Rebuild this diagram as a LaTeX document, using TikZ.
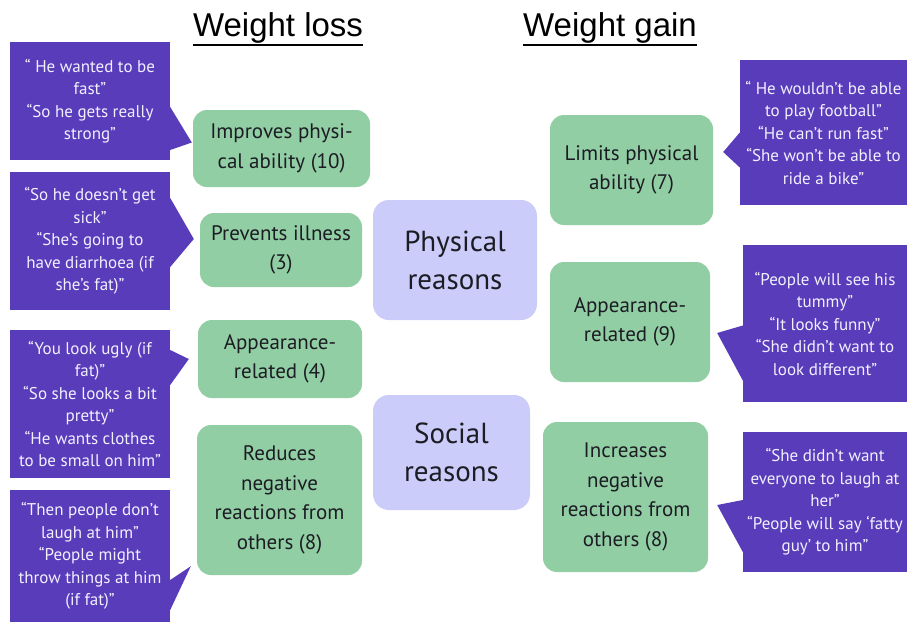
\documentclass[tikz,border=0pt]{standalone}
\usepackage{fontspec}
\setmainfont{PT Sans}
\newfontfamily\titlefont{Liberation Sans}

\definecolor{quotebg}{RGB}{88,60,186}
\definecolor{quotetxt}{RGB}{242,240,255}
\definecolor{reasonbg}{RGB}{146,206,163}
\definecolor{groupbg}{RGB}{204,204,250}
\definecolor{inktxt}{RGB}{28,28,36}

\tikzset{
    dims/.style 2 args={minimum width=#1pt, minimum height=#2pt},
    heading/.style={font=\titlefont\fontsize{33}{38}\selectfont, inner sep=0pt, anchor=base},
    group/.style={rounded corners=16pt, fill=groupbg, text=inktxt, align=center, inner sep=0pt, font=\fontsize{29}{38}\selectfont},
    reason/.style={rounded corners=14pt, fill=reasonbg, text=inktxt, align=center, inner sep=0pt, font=\fontsize{21}{29.5}\selectfont},
    quote/.style={fill=quotebg, text=quotetxt, align=center, inner sep=0pt, font=\fontsize{17}{22.5}\selectfont},
    tail/.style={fill=quotebg}
}

\begin{document}
\begin{tikzpicture}[x=1pt,y=-1pt]
    \useasboundingbox[fill=white] (0,0) rectangle (910,635);

    \node[heading] (loss) at (278,36) {Weight loss};
    \node[heading] (gain) at (610,36) {Weight gain};
    \draw[line width=2.5pt] ([yshift=-9pt]loss.base west) -- ([yshift=-9pt]loss.base east);
    \draw[line width=2.5pt] ([yshift=-9pt]gain.base west) -- ([yshift=-9pt]gain.base east);

    \node[group, dims={164}{120}] (phys) at (455,260) {Physical\\reasons};
    \node[group, dims={157}{115}] (soc) at (451.5,452.5) {Social\\reasons};

    \node[reason, dims={177}{77}] (imp) at (281.5,148.5) {Improves physi-\\cal ability (10)};
    \node[reason, dims={162}{74}] (prev) at (281,250) {Prevents illness\\(3)};
    \node[reason, dims={164}{78}] (app) at (280,359) {Appearance-\\related (4)};
    \node[reason, dims={165}{150}] (red) at (279.5,500) {Reduces\\negative\\reactions from\\others (8)};

    \node[reason, dims={163}{110}] (lim) at (631.5,170) {Limits physical\\ability (7)};
    \node[reason, dims={160}{120}] (appg) at (630,322) {Appearance-\\related (9)};
    \node[reason, dims={165}{150}] (inc) at (625.5,497) {Increases\\negative\\reactions from\\others (8)};

    \node[quote, dims={160}{118}] (qa) at (90,101) {“ He wanted to be\\fast”\\“So he gets really\\strong”};
    \node[quote, dims={160}{138}] (qb) at (90,241) {“So he doesn’t get\\sick”\\“She’s going to\\have diarrhoea (if\\she’s fat)”};
    \node[quote, dims={160}{148}] (qc) at (90,404) {“You look ugly (if\\fat)”\\“So she looks a bit\\pretty”\\“He wants clothes\\to be small on him”};
    \node[quote, dims={160}{132}] (qd) at (90,556) {“Then people don’t\\laugh at him”\\“People might\\throw things at him\\(if fat)”};

    \node[quote, dims={167}{145}] (qe) at (823.5,132.5) {“ He wouldn’t be able\\to play football”\\“He can’t run fast”\\“She won’t be able to\\ride a bike”};
    \node[quote, dims={164}{157}] (qf) at (825,323.5) {“People will see his\\tummy”\\“It looks funny”\\“She didn’t want to\\look different”};
    \node[quote, dims={164}{140}] (qg) at (825,502) {“She didn’t want\\everyone to laugh at\\her”\\“People will say ‘fatty\\guy’ to him”};

    \fill[tail] ([yshift=-6pt]qa.east) -- ([xshift=-1pt,yshift=6pt]imp.west) -- ([yshift=-49pt]qa.east) -- cycle;
    \fill[tail] ([yshift=43pt]qb.east) -- ([xshift=-6pt,yshift=11pt]prev.west) -- ([yshift=-26pt]qb.east) -- cycle;
    \fill[tail] ([yshift=54pt]qc.east) -- ([xshift=-9pt]app.west) -- ([yshift=19pt]qc.east) -- cycle;
    \fill[tail] ([yshift=-24pt]qd.east) -- ([xshift=-6pt,yshift=9pt]red.south west) -- ([yshift=-54pt]qd.east) -- cycle;
    \fill[tail] ([yshift=0pt]qe.west) -- ([xshift=10pt,yshift=18pt]lim.east) -- ([yshift=-35pt]qe.west) -- cycle;
    \fill[tail] ([yshift=-2pt]qf.west) -- ([xshift=7pt,yshift=-11pt]appg.east) -- ([yshift=-57pt]qf.west) -- cycle;
    \fill[tail] ([yshift=2pt]qg.west) -- ([xshift=9pt,yshift=-8pt]inc.east) -- ([yshift=-50pt]qg.west) -- cycle;
\end{tikzpicture}
\end{document}
